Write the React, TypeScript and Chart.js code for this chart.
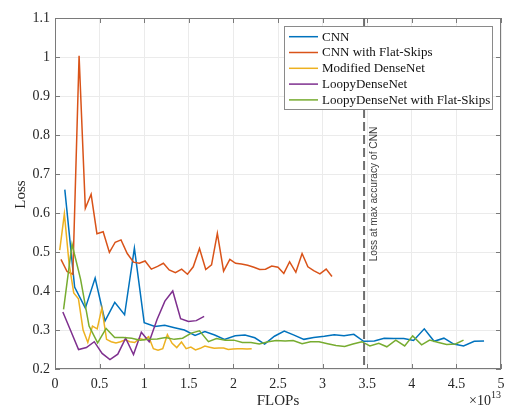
import React, { useEffect, useRef } from "react";
import { Chart, registerables } from "chart.js";
Chart.register(...registerables);

const seriesNames = [
  "CNN",
  "CNN with Flat-Skips",
  "Modified DenseNet",
  "LoopyDenseNet",
  "LoopyDenseNet with Flat-Skips",
];
const seriesColors = ["#0072BD", "#D95319", "#EDB120", "#7E2F8E", "#77AC30"];

const cnnX = [0.11,0.22,0.34,0.45,0.56,0.67,0.78,0.89,1.0,1.12,1.23,1.34,1.45,1.57,1.68,1.79,1.9,2.02,2.13,2.24,2.35,2.46,2.57,2.68,2.79,2.9,3.02,3.13,3.24,3.35,3.46,3.58,3.69,3.8,3.91,4.02,4.14,4.25,4.36,4.47,4.58,4.7,4.81];
const cnnY = [0.66,0.41,0.356,0.433,0.323,0.371,0.339,0.51,0.319,0.309,0.312,0.306,0.30,0.286,0.296,0.287,0.276,0.285,0.287,0.28,0.264,0.284,0.297,0.287,0.276,0.281,0.284,0.288,0.285,0.289,0.271,0.272,0.279,0.278,0.278,0.273,0.303,0.271,0.279,0.264,0.259,0.271,0.272];

const flatX = [0.067,0.135,0.2,0.27,0.34,0.405,0.47,0.54,0.61,0.675,0.74,0.81,0.88,0.945,1.01,1.08,1.15,1.215,1.28,1.35,1.42,1.485,1.55,1.62,1.69,1.755,1.82,1.89,1.96,2.025,2.09,2.16,2.23,2.295,2.36,2.43,2.5,2.565,2.63,2.7,2.77,2.835,2.9,2.97,3.04,3.105];
const flatY = [0.481,0.45,0.443,1.003,0.612,0.648,0.547,0.552,0.499,0.525,0.531,0.496,0.474,0.471,0.477,0.456,0.463,0.471,0.454,0.447,0.456,0.443,0.462,0.509,0.455,0.467,0.548,0.451,0.481,0.471,0.469,0.466,0.461,0.455,0.456,0.464,0.461,0.445,0.475,0.448,0.496,0.462,0.452,0.444,0.456,0.437];

const denseX = [0.053,0.105,0.158,0.21,0.263,0.315,0.368,0.42,0.473,0.525,0.578,0.63,0.683,0.735,0.788,0.84,0.893,0.945,0.998,1.05,1.103,1.155,1.208,1.26,1.313,1.365,1.418,1.47,1.523,1.575,1.628,1.68,1.733,1.785,1.838,1.89,1.943,1.995,2.048,2.1,2.153,2.205];
const denseY = [0.505,0.598,0.47,0.395,0.38,0.30,0.268,0.31,0.303,0.356,0.276,0.27,0.267,0.27,0.275,0.27,0.268,0.278,0.275,0.283,0.252,0.248,0.252,0.288,0.266,0.255,0.269,0.252,0.256,0.249,0.253,0.259,0.256,0.253,0.254,0.254,0.25,0.251,0.252,0.252,0.251,0.252];

const loopyX = [0.088,0.176,0.264,0.352,0.44,0.528,0.616,0.704,0.792,0.88,0.968,1.056,1.144,1.232,1.32,1.408,1.496,1.584,1.672];
const loopyY = [0.346,0.298,0.25,0.255,0.27,0.24,0.224,0.238,0.279,0.237,0.294,0.27,0.327,0.374,0.40,0.329,0.322,0.324,0.335];

const loopyFlatX = [0.096,0.191,0.287,0.382,0.478,0.573,0.669,0.764,0.86,0.955,1.05,1.146,1.24,1.337,1.43,1.528,1.62,1.72,1.81,1.91,2.005,2.1,2.197,2.29,2.39,2.48,2.58,2.67,2.77,2.865,2.96,3.056,3.15,3.247,3.34,3.44,3.53,3.63,3.72,3.82,3.92,4.01,4.11,4.2,4.3,4.39,4.49,4.58];
const loopyFlatY = [0.353,0.52,0.43,0.31,0.267,0.304,0.281,0.281,0.279,0.274,0.276,0.277,0.281,0.276,0.279,0.292,0.298,0.27,0.278,0.274,0.274,0.268,0.268,0.264,0.27,0.273,0.272,0.273,0.265,0.27,0.27,0.265,0.26,0.258,0.264,0.27,0.259,0.266,0.257,0.274,0.259,0.285,0.262,0.274,0.268,0.263,0.264,0.274];

const xTicks = [0, 0.5, 1, 1.5, 2, 2.5, 3, 3.5, 4, 4.5, 5];
const yTicks = [0.2, 0.3, 0.4, 0.5, 0.6, 0.7, 0.8, 0.9, 1, 1.1];
const markerX = 3.465;
const markerLabel = "Loss at max accuracy of CNN";
const xTitle = "FLOPs";
const yTitle = "Loss";
const xExponent = "13";

const allX = [cnnX, flatX, denseX, loopyX, loopyFlatX];
const allY = [cnnY, flatY, denseY, loopyY, loopyFlatY];

const serif = "'Liberation Serif', 'Times New Roman', serif";
const sans = "'Liberation Sans', Arial, sans-serif";

const overlayPlugin = {
  id: "overlay",
  afterDraw(chart: any) {
    const { ctx, chartArea, scales } = chart;
    const { left, right, top, bottom } = chartArea;
    ctx.save();
    // Axes box
    ctx.strokeStyle = "#7a7a7a";
    ctx.lineWidth = 1;
    ctx.strokeRect(left + 0.5, top + 0.5, right - left - 1, bottom - top - 1);
    // Inward ticks
    const tl = 5;
    ctx.beginPath();
    xTicks.forEach((v) => {
      const px = Math.round(scales.x.getPixelForValue(v)) + 0.5;
      ctx.moveTo(px, bottom);
      ctx.lineTo(px, bottom - tl);
      ctx.moveTo(px, top);
      ctx.lineTo(px, top + tl);
    });
    yTicks.forEach((v) => {
      const py = Math.round(scales.y.getPixelForValue(v)) + 0.5;
      ctx.moveTo(left, py);
      ctx.lineTo(left + tl, py);
      ctx.moveTo(right, py);
      ctx.lineTo(right - tl, py);
    });
    ctx.stroke();

    // Dashed marker line
    const mx = scales.x.getPixelForValue(markerX);
    ctx.strokeStyle = "#6e6e6e";
    ctx.lineWidth = 2;
    ctx.setLineDash([9, 4]);
    ctx.beginPath();
    ctx.moveTo(mx, top);
    ctx.lineTo(mx, bottom);
    ctx.stroke();
    ctx.setLineDash([]);

    // Marker label
    ctx.save();
    ctx.translate(mx + 10, top + 176);
    ctx.rotate(-Math.PI / 2);
    ctx.fillStyle = "#404040";
    ctx.font = `10.2px ${sans}`;
    ctx.textAlign = "center";
    ctx.textBaseline = "middle";
    ctx.fillText(markerLabel, 0, 0);
    ctx.restore();

    // Legend
    const lx = left + 229;
    const ly = top + 8;
    const lw = 208;
    const lh = 83;
    ctx.fillStyle = "#ffffff";
    ctx.fillRect(lx, ly, lw, lh);
    ctx.strokeStyle = "#8a8a8a";
    ctx.lineWidth = 1;
    ctx.strokeRect(lx + 0.5, ly + 0.5, lw, lh);
    ctx.font = `13px ${serif}`;
    ctx.textAlign = "left";
    ctx.textBaseline = "middle";
    seriesNames.forEach((name, i) => {
      const yy = ly + 10.7 + i * 15.8;
      ctx.strokeStyle = seriesColors[i];
      ctx.lineWidth = 1.5;
      ctx.beginPath();
      ctx.moveTo(lx + 5, yy);
      ctx.lineTo(lx + 34, yy);
      ctx.stroke();
      ctx.fillStyle = "#111111";
      ctx.fillText(name, lx + 38, yy + 0.5);
    });

    // Axis titles
    ctx.fillStyle = "#262626";
    ctx.font = `15px ${serif}`;
    ctx.textAlign = "center";
    ctx.textBaseline = "alphabetic";
    ctx.fillText(xTitle, (left + right) / 2, 405);
    ctx.save();
    ctx.translate(25, (top + bottom) / 2 + 1);
    ctx.rotate(-Math.PI / 2);
    ctx.textBaseline = "alphabetic";
    ctx.fillText(yTitle, 0, 0);
    ctx.restore();

    // x exponent
    ctx.textAlign = "left";
    ctx.font = `14px ${serif}`;
    const baseTxt = "\u00d710";
    const bw = ctx.measureText(baseTxt).width;
    ctx.font = `10px ${serif}`;
    const ew = ctx.measureText(xExponent).width;
    const startX = right - bw - ew;
    ctx.font = `14px ${serif}`;
    ctx.fillText(baseTxt, startX, 405);
    ctx.font = `10px ${serif}`;
    ctx.fillText(xExponent, startX + bw, 398);

    ctx.restore();
  },
};

export default function App() {
  const canvasRef = useRef<HTMLCanvasElement | null>(null);
  useEffect(() => {
    if (!canvasRef.current) return;
    const datasets = seriesNames.map((name, i) => ({
      label: name,
      data: allX[i].map((x, j) => ({ x, y: allY[i][j] })),
      borderColor: seriesColors[i],
      backgroundColor: seriesColors[i],
      borderWidth: 1.5,
      pointRadius: 0,
      tension: 0,
      fill: false,
      order: seriesNames.length - i,
    }));
    const chart = new Chart(canvasRef.current, {
      type: "line",
      data: { datasets },
      options: {
        animation: false,
        responsive: false,
        devicePixelRatio: 1,
        layout: { padding: { left: 0, right: 13, top: 18, bottom: 0 } },
        plugins: { legend: { display: false }, tooltip: { enabled: false } },
        scales: {
          x: {
            type: "linear",
            min: 0,
            max: 5,
            afterBuildTicks: (s: any) => {
              s.ticks = xTicks.map((v) => ({ value: v }));
            },
            afterFit: (s: any) => {
              s.height = 36;
            },
            ticks: {
              padding: 7,
              color: "#262626",
              font: { family: serif, size: 14 },
              maxRotation: 0,
              autoSkip: false,
              callback: (v: any) => String(Math.round(Number(v) * 10) / 10),
            },
            grid: { color: "#ebebeb", lineWidth: 1, drawTicks: false },
            border: { display: false },
          },
          y: {
            type: "linear",
            min: 0.2,
            max: 1.1,
            afterBuildTicks: (s: any) => {
              s.ticks = yTicks.map((v) => ({ value: v }));
            },
            afterFit: (s: any) => {
              s.width = 55;
            },
            ticks: {
              padding: 5,
              color: "#262626",
              font: { family: serif, size: 14 },
              autoSkip: false,
              callback: (v: any) => String(Math.round(Number(v) * 10) / 10),
            },
            grid: { color: "#ebebeb", lineWidth: 1, drawTicks: false },
            border: { display: false },
          },
        },
      },
      plugins: [overlayPlugin],
    });
    return () => chart.destroy();
  }, []);
  return (
    <div style={{ position: "fixed", left: 0, top: 0, width: 514, height: 405, background: "#fff" }}>
      <canvas ref={canvasRef} width={514} height={405} style={{ width: 514, height: 405, display: "block" }} />
    </div>
  );
}
